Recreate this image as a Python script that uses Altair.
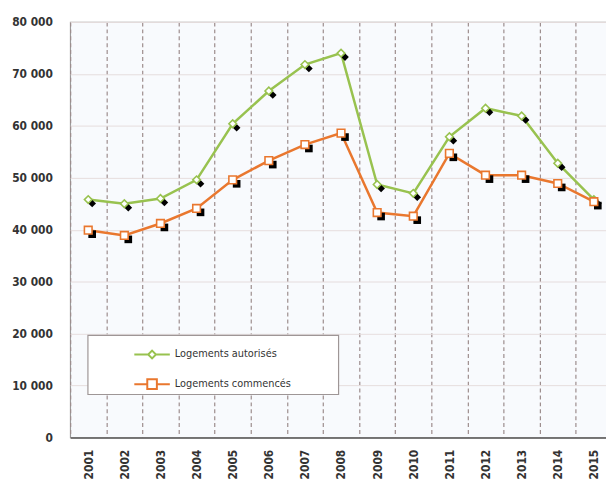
import altair as alt
import pandas as pd

years = [str(y) for y in range(2001, 2016)]
autorises = [45800, 45000, 46000, 49600, 60400, 66700, 71800, 74000,
             48700, 47000, 57900, 63400, 61900, 52800, 45800]
commences = [39900, 38900, 41200, 44100, 49600, 53300, 56400, 58600,
             43300, 42600, 54700, 50500, 50500, 48900, 45400]
series = ["Logements autorisés", "Logements commencés"]
colors = ["#98c24f", "#e9772e"]

rows = []
for i, y in enumerate(years):
    rows.append({"annee": y, "serie": series[0], "valeur": autorises[i]})
    rows.append({"annee": y, "serie": series[1], "valeur": commences[i]})
df = pd.DataFrame(rows)

FONT = "DejaVu Sans Condensed, Liberation Sans Narrow, DejaVu Sans, sans-serif"

x_enc = alt.X(
    "annee:N",
    sort=years,
    scale=alt.Scale(paddingInner=0, paddingOuter=0),
    axis=alt.Axis(
        title=None, grid=True, tickBand="extent", gridDash=[4, 3],
        gridColor="#9c8c8c", gridWidth=1.2, ticks=False,
        domainColor="#555555", domainWidth=1.6,
        labelAngle=270, labelPadding=12, labelFontSize=12,
        labelFontWeight="bold", labelColor="#333333", labelFont=FONT,
    ),
)
y_enc = alt.Y(
    "valeur:Q",
    scale=alt.Scale(domain=[0, 80000], nice=False),
    axis=alt.Axis(
        title=None, values=list(range(0, 80001, 10000)), grid=True,
        gridColor="#e6dcdc", domain=False, ticks=False, labelPadding=18,
        labelFontSize=12, labelFontWeight="bold", labelColor="#333333",
        labelFont=FONT,
        labelExpr="datum.value == 0 ? '0' : format(datum.value / 1000, 'd') + ' 000'",
    ),
)

color_scale = alt.Scale(domain=series, range=colors)
shape_scale = alt.Scale(domain=series, range=["diamond", "square"])

lines = alt.Chart(df).mark_line(strokeWidth=2.5).encode(
    x=x_enc, y=y_enc,
    color=alt.Color("serie:N", scale=color_scale, legend=None),
)

shadows = alt.Chart(df).mark_point(
    filled=True, color="black", xOffset=4, yOffset=4, size=60, opacity=1
).encode(
    x=x_enc, y=y_enc,
    shape=alt.Shape("serie:N", scale=shape_scale, legend=None),
)

points = alt.Chart(df).mark_point(
    fill="white", strokeWidth=1.6, size=60, opacity=1, filled=False
).encode(
    x=x_enc, y=y_enc,
    stroke=alt.Stroke("serie:N", scale=color_scale, legend=None),
    shape=alt.Shape("serie:N", scale=shape_scale, legend=None),
)

# legend frame (white box with grey border)
legend_box = alt.Chart(pd.DataFrame({"k": [0]})).mark_rect(
    fill="white", stroke="#9e9696", strokeWidth=1.2
).encode(
    x=alt.value(18), x2=alt.value(272), y=alt.value(317.5), y2=alt.value(377.5)
)

legend_paths = [
    "M-1,0H-0.22M0.22,0H1M0,-0.22L0.22,0L0,0.22L-0.22,0Z",
    "M-1,0H-0.27M0.27,0H1M-0.27,-0.27H0.27V0.27H-0.27Z",
]
legend_props = dict(
    title=None, orient="none", legendX=18, legendY=317,
    padding=1, rowPadding=3, symbolSize=1296, symbolStrokeWidth=2,
    symbolFillColor="white", symbolOffset=45, labelOffset=4,
    labelFont=FONT, labelFontSize=11, labelColor="#333333",
)
legend_layer = alt.Chart(df).mark_point(
    fill="white", strokeWidth=2, opacity=1, filled=False
).encode(
    x=x_enc, y=y_enc,
    stroke=alt.Stroke("serie:N", scale=alt.Scale(domain=series, range=colors),
                      legend=alt.Legend(**legend_props)),
    shape=alt.Shape("serie:N", scale=alt.Scale(domain=series, range=legend_paths),
                    legend=alt.Legend(**legend_props)),
).transform_filter("false")

chart = alt.layer(lines, shadows, points, legend_box, legend_layer).resolve_scale(
    shape="independent", stroke="independent"
).properties(
    width=549, height=421,
    autosize=alt.AutoSizeParams(type="none"),
    padding={"left": 63, "top": 11, "right": -6, "bottom": 42},
    background="white",
).configure_view(
    stroke="#9a9a9a", strokeWidth=1.2, fill="#f8fafd"
)

chart.save("out.html", embed_options={"renderer": "svg", "actions": False})
